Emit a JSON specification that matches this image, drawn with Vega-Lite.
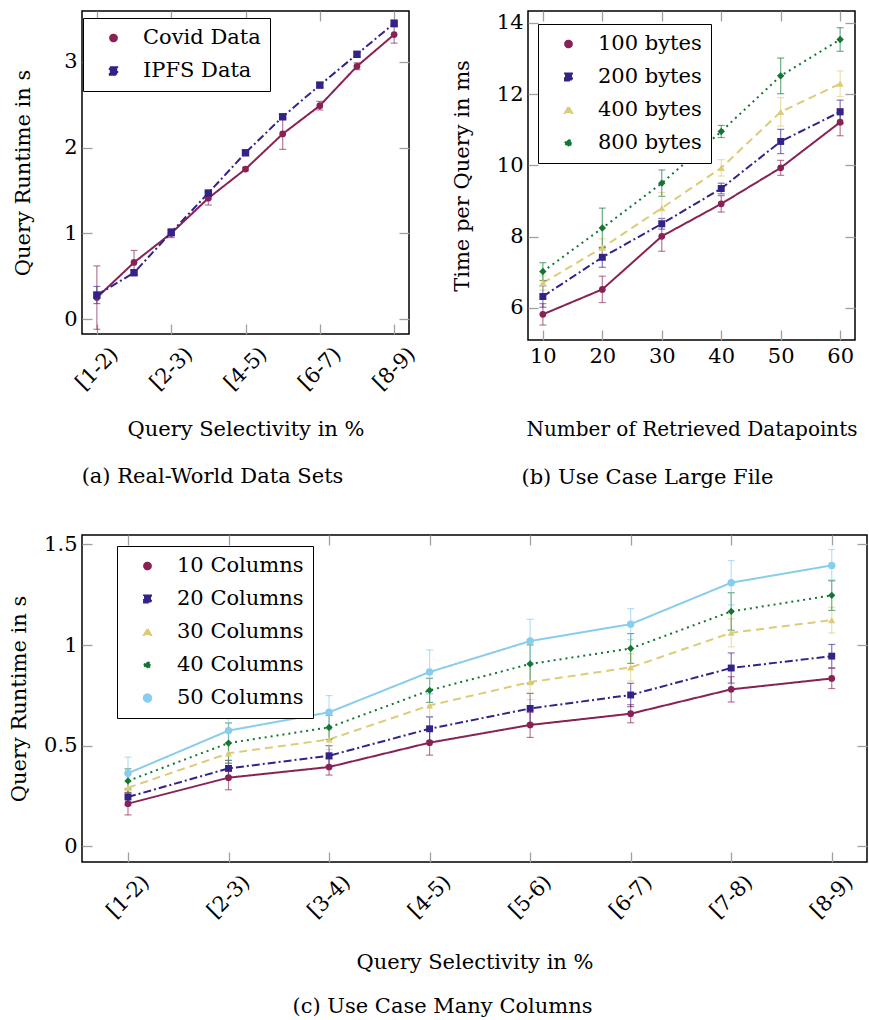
{
"$schema":"https://vega.github.io/schema/vega-lite/v6.json",
"padding":{"left":7,"top":9,"right":0,"bottom":0},
"config":{
 "font":"DejaVu Serif",
 "view":{"stroke":"black","strokeWidth":1.5},
 "axis":{"labelFont":"DejaVu Serif","labelFontSize":21,"labelColor":"black","titleFont":"DejaVu Serif","titleFontSize":21,"titleFontWeight":"normal","titleColor":"black","grid":false,"domain":false,"tickColor":"#a0a0a0","tickWidth":1.3,"tickSize":-10,"labelPadding":15,"labelFlush":false,"labelOverlap":false},
 "legend":{"labelFont":"DejaVu Serif","labelFontSize":21,"labelColor":"black","strokeColor":"black","fillColor":"white","padding":9,"symbolType":"stroke","symbolSize":2025,"symbolStrokeWidth":2,"symbolOffset":11,"labelOffset":19,"rowPadding":11,"clipHeight":22,"labelLimit":0},
 "title":{"font":"DejaVu Serif","fontSize":21,"fontWeight":"normal","color":"black","offset":24}
},
"columns":1,
"align":"none",
"spacing":43,
"resolve":{"scale":{"color":"independent","shape":"independent","size":"independent","strokeDash":"independent"},"legend":{"color":"independent","strokeDash":"independent"}},
"concat":[
 {"hconcat":[
  {
   "width":327,"height":323,
   "title":{"text":"(a) Real-World Data Sets","orient":"bottom","offset":27,"dx":-33},
   "data":{"values":[
    {"s":"Covid Data","x":0,"v":0.25,"e":0.37},{"s":"Covid Data","x":1,"v":0.66,"e":0.14},{"s":"Covid Data","x":2,"v":1.00,"e":0.05},{"s":"Covid Data","x":3,"v":1.41,"e":0.08},{"s":"Covid Data","x":4,"v":1.75,"e":0.02},{"s":"Covid Data","x":5,"v":2.16,"e":0.18},{"s":"Covid Data","x":6,"v":2.49,"e":0.05},{"s":"Covid Data","x":7,"v":2.95,"e":0.04},{"s":"Covid Data","x":8,"v":3.32,"e":0.10},
    {"s":"IPFS Data","x":0,"v":0.28,"e":0.10},{"s":"IPFS Data","x":1,"v":0.54,"e":0.03},{"s":"IPFS Data","x":2,"v":1.01,"e":0.04},{"s":"IPFS Data","x":3,"v":1.47,"e":0.03},{"s":"IPFS Data","x":4,"v":1.94,"e":0.03},{"s":"IPFS Data","x":5,"v":2.36,"e":0.03},{"s":"IPFS Data","x":6,"v":2.73,"e":0.03},{"s":"IPFS Data","x":7,"v":3.09,"e":0.03},{"s":"IPFS Data","x":8,"v":3.45,"e":0.04}
   ]},
   "layer":[
    {"layer":[
     {"mark":{"type":"line","strokeWidth":2},
      "encoding":{
       "x":{"field":"x","type":"quantitative","title":"Query Selectivity in %","scale":{"domain":[-0.4,8.4],"nice":false,"zero":false},
            "axis":{"values":[0,2,4,6,8],"labelExpr":"['[1-2)','','[2-3)','','[4-5)','','[6-7)','','[8-9)'][datum.value]","labelAngle":-45,"labelOffset":10,"labelPadding":19,"titlePadding":25}},
       "y":{"field":"v","type":"quantitative","title":"Query Runtime in s","scale":{"domain":[-0.175,3.595],"nice":false,"zero":false},
            "axis":{"values":[0,1,2,3],"format":"~g","titlePadding":30}},
       "color":{"field":"s","type":"nominal","scale":{"domain":["Covid Data","IPFS Data"],"range":["#882255","#332288"]},
         "legend":{"title":null,"orient":"none","legendX":1,"legendY":7,"direction":"vertical"}},
       "strokeDash":{"field":"s","type":"nominal","scale":{"domain":["Covid Data","IPFS Data"],"range":[[1,0],[8,3,2,3]]},
         "legend":{"title":null,"orient":"none","legendX":1,"legendY":7,"direction":"vertical"}}
      }},
     {"mark":{"type":"errorbar","opacity":0.6,"ticks":{"size":7,"thickness":1.2},"rule":{"strokeWidth":1.2}},
      "encoding":{
       "x":{"field":"x","type":"quantitative","title":"Query Selectivity in %","scale":{"domain":[-0.4,8.4],"nice":false,"zero":false}},
       "y":{"field":"v","type":"quantitative","title":"Query Runtime in s","scale":{"domain":[-0.175,3.595],"nice":false,"zero":false}},
       "yError":{"field":"e"},
       "color":{"field":"s","type":"nominal","scale":{"domain":["Covid Data","IPFS Data"],"range":["#882255","#332288"]},"legend":null}
      }},
     {"mark":{"type":"point","filled":true,"opacity":1},
      "encoding":{
       "x":{"field":"x","type":"quantitative","title":"Query Selectivity in %","scale":{"domain":[-0.4,8.4],"nice":false,"zero":false}},
       "y":{"field":"v","type":"quantitative","title":"Query Runtime in s","scale":{"domain":[-0.175,3.595],"nice":false,"zero":false}},
       "color":{"field":"s","type":"nominal","scale":{"domain":["Covid Data","IPFS Data"],"range":["#882255","#332288"]},"legend":null},
       "shape":{"field":"s","type":"nominal","scale":{"domain":["Covid Data","IPFS Data"],"range":["circle","square"]},"legend":null},
       "size":{"field":"s","type":"nominal","scale":{"domain":["Covid Data","IPFS Data"],"range":[45,55]},"legend":null}
      }}
    ]},
    {"mark":{"type":"point","opacity":0},
     "encoding":{
      "x":{"field":"x","type":"quantitative","scale":{"domain":[-0.4,8.4],"nice":false,"zero":false},"axis":{"orient":"top","labels":false,"title":null,"values":[0,2,4,6,8]}},
      "y":{"field":"v","type":"quantitative","scale":{"domain":[-0.175,3.595],"nice":false,"zero":false},"axis":{"orient":"right","labels":false,"title":null,"values":[0,1,2,3]}}
     }}
   ],
   "resolve":{"axis":{"x":"independent","y":"independent"}}
  },
  {
   "width":327,"height":329,
   "title":{"text":"(b) Use Case Large File","orient":"bottom","offset":28,"dx":-44},
   "data":{"values":[
    {"s":"100 bytes","x":10,"v":5.82,"e":0.30},{"s":"100 bytes","x":20,"v":6.52,"e":0.37},{"s":"100 bytes","x":30,"v":8.01,"e":0.42},{"s":"100 bytes","x":40,"v":8.92,"e":0.23},{"s":"100 bytes","x":50,"v":9.93,"e":0.21},{"s":"100 bytes","x":60,"v":11.21,"e":0.38},
    {"s":"200 bytes","x":10,"v":6.32,"e":0.30},{"s":"200 bytes","x":20,"v":7.42,"e":0.28},{"s":"200 bytes","x":30,"v":8.36,"e":0.15},{"s":"200 bytes","x":40,"v":9.35,"e":0.15},{"s":"200 bytes","x":50,"v":10.67,"e":0.34},{"s":"200 bytes","x":60,"v":11.50,"e":0.33},
    {"s":"400 bytes","x":10,"v":6.70,"e":0.20},{"s":"400 bytes","x":20,"v":7.69,"e":0.25},{"s":"400 bytes","x":30,"v":8.80,"e":0.44},{"s":"400 bytes","x":40,"v":9.93,"e":0.23},{"s":"400 bytes","x":50,"v":11.50,"e":0.40},{"s":"400 bytes","x":60,"v":12.29,"e":0.36},
    {"s":"800 bytes","x":10,"v":7.02,"e":0.25},{"s":"800 bytes","x":20,"v":8.24,"e":0.56},{"s":"800 bytes","x":30,"v":9.50,"e":0.37},{"s":"800 bytes","x":40,"v":10.95,"e":0.17},{"s":"800 bytes","x":50,"v":12.51,"e":0.50},{"s":"800 bytes","x":60,"v":13.53,"e":0.33}
   ]},
   "layer":[
    {"layer":[
     {"mark":{"type":"line","strokeWidth":2},
      "encoding":{
       "x":{"field":"x","type":"quantitative","title":"Number of Retrieved Datapoints","scale":{"domain":[7.5,62.5],"nice":false,"zero":false},
            "axis":{"values":[10,20,30,40,50,60],"labelAngle":0,"titlePadding":53,"titleFontSize":20}},
       "y":{"field":"v","type":"quantitative","title":"Time per Query in ms","scale":{"domain":[5.1,14.33],"nice":false,"zero":false},
            "axis":{"values":[6,8,10,12,14],"format":"~g","titlePadding":24}},
       "color":{"field":"s","type":"nominal","scale":{"domain":["100 bytes","200 bytes","400 bytes","800 bytes"],"range":["#882255","#332288","#DDCC77","#117733"]},
         "legend":{"title":null,"orient":"none","legendX":10,"legendY":13,"direction":"vertical"}},
       "strokeDash":{"field":"s","type":"nominal","scale":{"domain":["100 bytes","200 bytes","400 bytes","800 bytes"],"range":[[1,0],[8,3,2,3],[8,5],[2,4]]},
         "legend":{"title":null,"orient":"none","legendX":10,"legendY":13,"direction":"vertical"}}
      }},
     {"mark":{"type":"errorbar","opacity":0.6,"ticks":{"size":7,"thickness":1.2},"rule":{"strokeWidth":1.2}},
      "encoding":{
       "x":{"field":"x","type":"quantitative","title":"Number of Retrieved Datapoints","scale":{"domain":[7.5,62.5],"nice":false,"zero":false}},
       "y":{"field":"v","type":"quantitative","title":"Time per Query in ms","scale":{"domain":[5.1,14.33],"nice":false,"zero":false}},
       "yError":{"field":"e"},
       "color":{"field":"s","type":"nominal","scale":{"domain":["100 bytes","200 bytes","400 bytes","800 bytes"],"range":["#882255","#332288","#DDCC77","#117733"]},"legend":null}
      }},
     {"mark":{"type":"point","filled":true,"opacity":1},
      "encoding":{
       "x":{"field":"x","type":"quantitative","title":"Number of Retrieved Datapoints","scale":{"domain":[7.5,62.5],"nice":false,"zero":false}},
       "y":{"field":"v","type":"quantitative","title":"Time per Query in ms","scale":{"domain":[5.1,14.33],"nice":false,"zero":false}},
       "color":{"field":"s","type":"nominal","scale":{"domain":["100 bytes","200 bytes","400 bytes","800 bytes"],"range":["#882255","#332288","#DDCC77","#117733"]},"legend":null},
       "shape":{"field":"s","type":"nominal","scale":{"domain":["100 bytes","200 bytes","400 bytes","800 bytes"],"range":["circle","square","triangle-up","diamond"]},"legend":null},
       "size":{"field":"s","type":"nominal","scale":{"domain":["100 bytes","200 bytes","400 bytes","800 bytes"],"range":[45,55,60,30]},"legend":null}
      }}
    ]},
    {"mark":{"type":"point","opacity":0},
     "encoding":{
      "x":{"field":"x","type":"quantitative","scale":{"domain":[7.5,62.5],"nice":false,"zero":false},"axis":{"orient":"top","labels":false,"title":null,"values":[10,20,30,40,50,60]}},
      "y":{"field":"v","type":"quantitative","scale":{"domain":[5.1,14.33],"nice":false,"zero":false},"axis":{"orient":"right","labels":false,"title":null,"values":[6,8,10,12,14]}}
     }}
   ],
   "resolve":{"axis":{"x":"independent","y":"independent"}}
  }
 ],"spacing":30,
 "resolve":{"scale":{"color":"independent","shape":"independent","size":"independent","strokeDash":"independent"},"legend":{"color":"independent","strokeDash":"independent"}}},
 {
  "width":785,"height":327,
  "title":{"text":"(c) Use Case Many Columns","orient":"bottom","offset":24,"dx":-32},
  "data":{"values":[
   {"s":"10 Columns","x":"[1-2)","v":0.212,"e":0.056},{"s":"10 Columns","x":"[2-3)","v":0.341,"e":0.06},{"s":"10 Columns","x":"[3-4)","v":0.394,"e":0.04},{"s":"10 Columns","x":"[4-5)","v":0.515,"e":0.062},{"s":"10 Columns","x":"[5-6)","v":0.603,"e":0.062},{"s":"10 Columns","x":"[6-7)","v":0.659,"e":0.045},{"s":"10 Columns","x":"[7-8)","v":0.780,"e":0.063},{"s":"10 Columns","x":"[8-9)","v":0.834,"e":0.05},
   {"s":"20 Columns","x":"[1-2)","v":0.245,"e":0.04},{"s":"20 Columns","x":"[2-3)","v":0.387,"e":0.04},{"s":"20 Columns","x":"[3-4)","v":0.450,"e":0.05},{"s":"20 Columns","x":"[4-5)","v":0.584,"e":0.06},{"s":"20 Columns","x":"[5-6)","v":0.685,"e":0.075},{"s":"20 Columns","x":"[6-7)","v":0.752,"e":0.058},{"s":"20 Columns","x":"[7-8)","v":0.886,"e":0.075},{"s":"20 Columns","x":"[8-9)","v":0.945,"e":0.058},
   {"s":"30 Columns","x":"[1-2)","v":0.291,"e":0.03},{"s":"30 Columns","x":"[2-3)","v":0.462,"e":0.05},{"s":"30 Columns","x":"[3-4)","v":0.531,"e":0.05},{"s":"30 Columns","x":"[4-5)","v":0.700,"e":0.06},{"s":"30 Columns","x":"[5-6)","v":0.816,"e":0.087},{"s":"30 Columns","x":"[6-7)","v":0.889,"e":0.068},{"s":"30 Columns","x":"[7-8)","v":1.061,"e":0.07},{"s":"30 Columns","x":"[8-9)","v":1.124,"e":0.064},
   {"s":"40 Columns","x":"[1-2)","v":0.325,"e":0.06},{"s":"40 Columns","x":"[2-3)","v":0.513,"e":0.1},{"s":"40 Columns","x":"[3-4)","v":0.591,"e":0.06},{"s":"40 Columns","x":"[4-5)","v":0.775,"e":0.06},{"s":"40 Columns","x":"[5-6)","v":0.906,"e":0.095},{"s":"40 Columns","x":"[6-7)","v":0.983,"e":0.074},{"s":"40 Columns","x":"[7-8)","v":1.167,"e":0.093},{"s":"40 Columns","x":"[8-9)","v":1.247,"e":0.075},
   {"s":"50 Columns","x":"[1-2)","v":0.363,"e":0.08},{"s":"50 Columns","x":"[2-3)","v":0.575,"e":0.06},{"s":"50 Columns","x":"[3-4)","v":0.666,"e":0.083},{"s":"50 Columns","x":"[4-5)","v":0.866,"e":0.11},{"s":"50 Columns","x":"[5-6)","v":1.020,"e":0.108},{"s":"50 Columns","x":"[6-7)","v":1.104,"e":0.077},{"s":"50 Columns","x":"[7-8)","v":1.310,"e":0.11},{"s":"50 Columns","x":"[8-9)","v":1.396,"e":0.079}
  ]},
  "layer":[
   {"layer":[
    {"mark":{"type":"line","strokeWidth":2},
     "encoding":{
      "x":{"field":"x","type":"nominal","sort":null,"title":"Query Selectivity in %","scale":{"type":"point","domain":["[1-2)","[2-3)","[3-4)","[4-5)","[5-6)","[6-7)","[7-8)","[8-9)"],"padding":0.404,"align":0.566},
           "axis":{"labelAngle":-45,"labelOffset":10,"labelPadding":19,"titlePadding":30}},
      "y":{"field":"v","type":"quantitative","title":"Query Runtime in s","scale":{"domain":[-0.078,1.547],"nice":false,"zero":false},
           "axis":{"values":[0,0.5,1,1.5],"format":"~g","titlePadding":14}},
      "color":{"field":"s","type":"nominal","scale":{"domain":["10 Columns","20 Columns","30 Columns","40 Columns","50 Columns"],"range":["#882255","#332288","#DDCC77","#117733","#88CCEE"]},
        "legend":{"title":null,"orient":"none","legendX":35,"legendY":11,"direction":"vertical"}},
      "strokeDash":{"field":"s","type":"nominal","scale":{"domain":["10 Columns","20 Columns","30 Columns","40 Columns","50 Columns"],"range":[[1,0],[8,3,2,3],[8,5],[2,4],[1,0]]},
        "legend":{"title":null,"orient":"none","legendX":35,"legendY":11,"direction":"vertical"}}
     }},
    {"mark":{"type":"errorbar","opacity":0.6,"ticks":{"size":7,"thickness":1.2},"rule":{"strokeWidth":1.2}},
     "encoding":{
      "x":{"field":"x","type":"nominal","sort":null,"title":"Query Selectivity in %","scale":{"type":"point","domain":["[1-2)","[2-3)","[3-4)","[4-5)","[5-6)","[6-7)","[7-8)","[8-9)"],"padding":0.404,"align":0.566}},
      "y":{"field":"v","type":"quantitative","title":"Query Runtime in s","scale":{"domain":[-0.078,1.547],"nice":false,"zero":false}},
      "yError":{"field":"e"},
      "color":{"field":"s","type":"nominal","scale":{"domain":["10 Columns","20 Columns","30 Columns","40 Columns","50 Columns"],"range":["#882255","#332288","#DDCC77","#117733","#88CCEE"]},"legend":null}
     }},
    {"mark":{"type":"point","filled":true,"opacity":1},
     "encoding":{
      "x":{"field":"x","type":"nominal","sort":null,"title":"Query Selectivity in %","scale":{"type":"point","domain":["[1-2)","[2-3)","[3-4)","[4-5)","[5-6)","[6-7)","[7-8)","[8-9)"],"padding":0.404,"align":0.566}},
      "y":{"field":"v","type":"quantitative","title":"Query Runtime in s","scale":{"domain":[-0.078,1.547],"nice":false,"zero":false}},
      "color":{"field":"s","type":"nominal","scale":{"domain":["10 Columns","20 Columns","30 Columns","40 Columns","50 Columns"],"range":["#882255","#332288","#DDCC77","#117733","#88CCEE"]},"legend":null},
      "shape":{"field":"s","type":"nominal","scale":{"domain":["10 Columns","20 Columns","30 Columns","40 Columns","50 Columns"],"range":["circle","square","triangle-up","diamond","circle"]},"legend":null},
      "size":{"field":"s","type":"nominal","scale":{"domain":["10 Columns","20 Columns","30 Columns","40 Columns","50 Columns"],"range":[45,55,60,30,60]},"legend":null}
     }}
   ]},
   {"mark":{"type":"point","opacity":0},
    "encoding":{
     "x":{"field":"x","type":"nominal","sort":null,"scale":{"type":"point","domain":["[1-2)","[2-3)","[3-4)","[4-5)","[5-6)","[6-7)","[7-8)","[8-9)"],"padding":0.404,"align":0.566},"axis":{"orient":"top","labels":false,"title":null}},
     "y":{"field":"v","type":"quantitative","scale":{"domain":[-0.078,1.547],"nice":false,"zero":false},"axis":{"orient":"right","labels":false,"title":null,"values":[0,0.5,1,1.5]}}
    }}
  ],
  "resolve":{"axis":{"x":"independent","y":"independent"}}
 }
]
}
